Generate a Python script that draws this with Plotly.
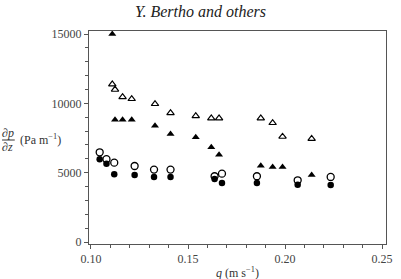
import plotly.graph_objects as go

# Data
q_circ = [0.1045, 0.108, 0.112, 0.1225, 0.1325, 0.141, 0.1637, 0.1675, 0.1855, 0.2065, 0.2235]
dp_open_circ = [6470, 5970, 5720, 5480, 5220, 5220, 4740, 4930, 4740, 4450, 4690]
dp_fill_circ = [5970, 5650, 4890, 4830, 4690, 4690, 4550, 4260, 4260, 4130, 4110]

q_tri = [0.111, 0.1124, 0.1163, 0.121, 0.133, 0.141, 0.154, 0.162, 0.166, 0.1875, 0.1936, 0.1987, 0.2137]
dp_open_tri = [11380, 10990, 10460, 10320, 9960, 9310, 9090, 8925, 8925, 8925, 8590, 7600, 7450]
dp_fill_tri = [15000, 8820, 8820, 8820, 8390, 7780, 7550, 6830, 6300, 5500, 5410, 5410, 4830]

x_ticks = [0.10, 0.15, 0.20, 0.25]
x_ticktext = ["0.10", "0.15", "0.20", "0.25"]
y_ticks = [0, 5000, 10000, 15000]
y_ticktext = ["0", "5000", "10000", "15000"]

W, H = 401, 279
L, R, T, B = 89, 8, 31, 35
pw, ph = W - L - R, H - T - B

SERIF = '"Liberation Serif", "Times New Roman", "DejaVu Serif", serif'

def px(x):
    return (x - L) / pw

def py(y):
    return (H - B - y) / ph

fig = go.Figure()
fig.add_trace(go.Scatter(x=q_tri, y=dp_open_tri, mode="markers",
                         marker=dict(symbol="triangle-up-open", size=6.5, color="black", line=dict(width=1.2))))
fig.add_trace(go.Scatter(x=q_tri, y=dp_fill_tri, mode="markers",
                         marker=dict(symbol="triangle-up", size=7, color="black")))
fig.add_trace(go.Scatter(x=q_circ, y=dp_open_circ, mode="markers",
                         marker=dict(symbol="circle-open", size=7, color="black", line=dict(width=1.3))))
fig.add_trace(go.Scatter(x=q_circ, y=dp_fill_circ, mode="markers",
                         marker=dict(symbol="circle", size=6.5, color="black")))

axis_common = dict(showgrid=False, zeroline=False, showline=True, linecolor="#555", linewidth=1,
                   mirror=True, ticks="outside", ticklen=4, tickcolor="#555", tickwidth=1,
                   tickfont=dict(family=SERIF, size=12, color="#444"))

fig.update_xaxes(range=[0.099, 0.252], tickvals=x_ticks, ticktext=x_ticktext,
                 minor=dict(dtick=0.01, tick0=0.1, ticks="outside", ticklen=3, tickcolor="#555"),
                 **axis_common)
fig.update_yaxes(range=[-144, 15216], tickvals=y_ticks, ticktext=y_ticktext,
                 minor=dict(dtick=1000, tick0=0, ticks="outside", ticklen=3, tickcolor="#555"),
                 **axis_common)

font = dict(family=SERIF, size=12, color="#333")
annotations = [
    dict(text="∂<i>p</i>", x=px(6), y=py(133), xref="paper", yref="paper", showarrow=False,
         xanchor="center", yanchor="middle", font=font),
    dict(text="∂<i>z</i>", x=px(6), y=py(147), xref="paper", yref="paper", showarrow=False,
         xanchor="center", yanchor="middle", font=font),
    dict(text="(Pa m<sup>−1</sup>)", x=px(16), y=py(139), xref="paper", yref="paper", showarrow=False,
         xanchor="left", yanchor="middle", font=font),
    dict(text="<i>q</i> (m s<sup>−1</sup>)", x=px(241), y=py(272), xref="paper", yref="paper",
         showarrow=False, xanchor="center", yanchor="middle", font=font),
]

fig.update_layout(
    width=W, height=H,
    margin=dict(l=L, r=R, t=T, b=B),
    paper_bgcolor="white", plot_bgcolor="white",
    showlegend=False,
    font=dict(family=SERIF),
    title=dict(text="<i>Y. Bertho and others</i>", x=0.5, xref="container", y=1 - 11 / H,
               yref="container", xanchor="center", yanchor="middle",
               font=dict(family=SERIF, size=16, color="#222")),
    annotations=annotations,
    shapes=[dict(type="line", xref="paper", yref="paper", x0=px(0), x1=px(13), y0=py(140), y1=py(140),
                 line=dict(color="#333", width=1))],
)

fig.write_html("out.html")
